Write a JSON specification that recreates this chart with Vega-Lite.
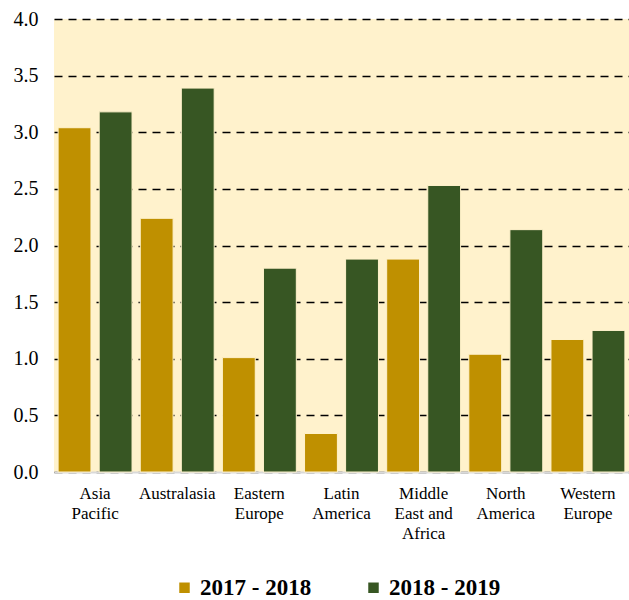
{
  "$schema": "https://vega.github.io/schema/vega-lite/v6.json",
  "width": 575,
  "height": 453,
  "autosize": {"type": "none"},
  "padding": {"left": 54, "top": 19, "right": 0, "bottom": 128},
  "background": "white",
  "config": {
    "font": "Liberation Serif",
    "axis": {"labelFont": "Liberation Serif"},
    "legend": {"labelFont": "Liberation Serif"},
    "view": {"fill": "#FFF2CC", "stroke": null}
  },
  "data": {
    "values": [
      {"region": "Asia|Pacific", "period": "2017 - 2018", "value": 3.04},
      {"region": "Asia|Pacific", "period": "2018 - 2019", "value": 3.18},
      {"region": "Australasia", "period": "2017 - 2018", "value": 2.24},
      {"region": "Australasia", "period": "2018 - 2019", "value": 3.39},
      {"region": "Eastern|Europe", "period": "2017 - 2018", "value": 1.01},
      {"region": "Eastern|Europe", "period": "2018 - 2019", "value": 1.80},
      {"region": "Latin|America", "period": "2017 - 2018", "value": 0.34},
      {"region": "Latin|America", "period": "2018 - 2019", "value": 1.88},
      {"region": "Middle|East and|Africa", "period": "2017 - 2018", "value": 1.88},
      {"region": "Middle|East and|Africa", "period": "2018 - 2019", "value": 2.53},
      {"region": "North|America", "period": "2017 - 2018", "value": 1.04},
      {"region": "North|America", "period": "2018 - 2019", "value": 2.14},
      {"region": "Western|Europe", "period": "2017 - 2018", "value": 1.17},
      {"region": "Western|Europe", "period": "2018 - 2019", "value": 1.25}
    ]
  },
  "mark": {"type": "bar", "stroke": "#FFF2CC", "strokeWidth": 1},
  "encoding": {
    "x": {
      "field": "region",
      "type": "nominal",
      "sort": null,
      "scale": {"paddingInner": 0.1, "paddingOuter": 0.05},
      "axis": {
        "title": null,
        "labelAngle": 0,
        "labelExpr": "split(datum.label, '|')",
        "labelFont": "Liberation Serif",
        "labelFontSize": 17,
        "labelColor": "#000000",
        "labelLineHeight": 20,
        "labelPadding": 13,
        "labelBaseline": "top",
        "ticks": false,
        "domain": true,
        "domainColor": "#D9D9D9",
        "domainWidth": 2,
        "grid": false
      }
    },
    "xOffset": {
      "field": "period",
      "type": "nominal",
      "scale": {"paddingInner": 0.2}
    },
    "y": {
      "field": "value",
      "type": "quantitative",
      "scale": {"domain": [0, 4], "nice": false},
      "axis": {
        "title": null,
        "values": [0, 0.5, 1, 1.5, 2, 2.5, 3, 3.5, 4],
        "format": ".1f",
        "labelFont": "Liberation Serif",
        "labelFontSize": 20,
        "labelColor": "#000000",
        "labelPadding": 16,
        "ticks": false,
        "domain": false,
        "grid": true,
        "gridColor": "#000000",
        "gridWidth": 1.6,
        "gridDash": [8, 6]
      }
    },
    "color": {
      "field": "period",
      "type": "nominal",
      "scale": {"domain": ["2017 - 2018", "2018 - 2019"], "range": ["#BF9000", "#375623"]},
      "legend": {
        "title": null,
        "orient": "none",
        "direction": "horizontal",
        "legendX": 119,
        "legendY": 557,
        "padding": 0,
        "symbolType": "square",
        "symbolSize": 110,
        "symbolStrokeWidth": 0,
        "symbolOpacity": 1,
        "labelFont": "Liberation Serif",
        "labelFontSize": 23,
        "labelFontWeight": "bold",
        "labelColor": "#000000",
        "labelOffset": 4,
        "columnPadding": 50,
        "labelLimit": 300
      }
    }
  }
}
